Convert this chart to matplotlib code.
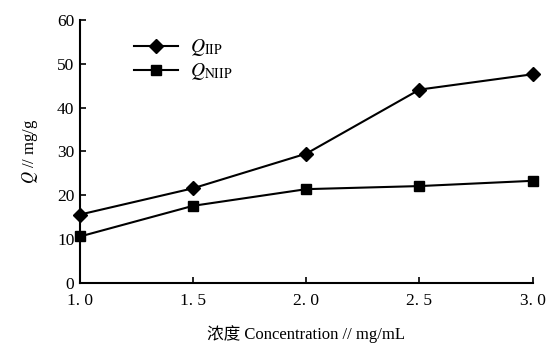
import matplotlib
matplotlib.use('Agg')
import matplotlib.pyplot as plt

plt.rcParams['font.family'] = ['Liberation Serif', 'Noto Sans CJK SC']
plt.rcParams['mathtext.fontset'] = 'stix'

# data
conc = [1.0, 1.5, 2.0, 2.5, 3.0]
q_iip = [15.6, 21.6, 29.5, 44.1, 47.6]
q_niip = [10.6, 17.6, 21.4, 22.1, 23.3]
xticks = [1.0, 1.5, 2.0, 2.5, 3.0]
xtick_labels = ['1. 0', '1. 5', '2. 0', '2. 5', '3. 0']
yticks = [0, 10, 20, 30, 40, 50, 60]

fig = plt.figure(figsize=(5.46, 3.43), dpi=100)
ax = fig.add_axes([0.1465, 0.175, 0.829, 0.767])

ax.plot(conc, q_iip, color='black', lw=1.5, marker='D', markersize=7,
        label=r'$Q_{\rm IIP}$', clip_on=False)
ax.plot(conc, q_niip, color='black', lw=1.5, marker='s', markersize=7,
        label=r'$Q_{\rm NIIP}$', clip_on=False)

ax.set_xlim(1.0, 3.0)
ax.set_ylim(0, 60)
ax.set_xticks(xticks)
ax.set_xticklabels(xtick_labels)
ax.set_yticks(yticks)
ax.tick_params(direction='in', length=4, width=1.2, labelsize=12.5)
ax.tick_params(axis='x', pad=7)
ax.tick_params(axis='y', pad=4)
for s in ['top', 'right']:
    ax.spines[s].set_visible(False)
for s in ['left', 'bottom']:
    ax.spines[s].set_linewidth(1.5)

ax.set_ylabel(r'$Q$ // mg/g', fontsize=12, labelpad=12)
ax.set_xlabel('浓度 Concentration // mg/mL', fontsize=12, labelpad=12)

ax.legend(loc='upper left', bbox_to_anchor=(0.08, 1.0), frameon=False,
          fontsize=14, handlelength=2.3, labelspacing=0.15, handletextpad=0.6)

fig.savefig('out.png', dpi=100)
